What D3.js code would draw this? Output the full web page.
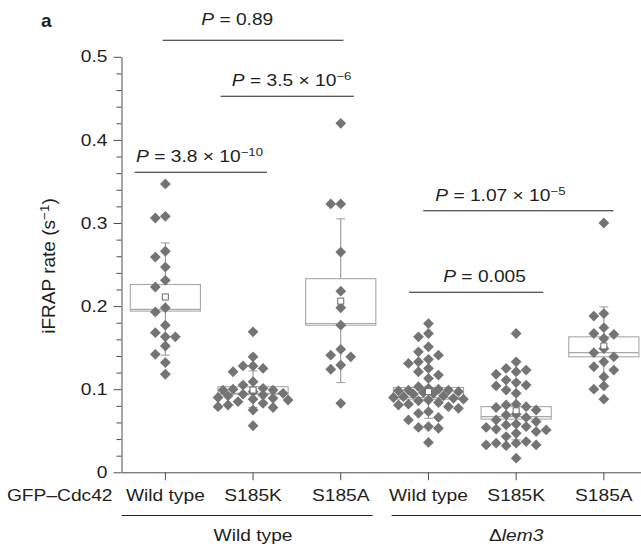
<!DOCTYPE html>
<html><head><meta charset="utf-8">
<script src="https://cdn.jsdelivr.net/npm/d3@7"></script>
<style>
body{margin:0;background:#fff}
svg{display:block}
text{font-family:"Liberation Sans",Arial,Helvetica,sans-serif;fill:#231f20}
</style>
</head><body>
<svg id="chart" width="641" height="547"></svg>
<script>
// ---------------- data ----------------
const categories = ["Wild type","S185K","S185A","Wild type","S185K","S185A"];
const strains = ["Wild type","Δlem3"];
const rowLabel = "GFP–Cdc42";
const yTicks = [0,0.1,0.2,0.3,0.4,0.5];

const wtWT = [0.347,0.308,0.306,0.266,0.259,0.247,0.231,0.223,0.198,0.193,0.177,0.168,0.163,0.163,0.152,0.142,0.132,0.118];
const wtS185K = [0.169,0.139,0.128,0.128,0.125,0.121,0.109,0.105,0.101,0.100,0.099,0.099,0.097,0.095,0.094,0.093,0.092,0.090,0.089,0.088,0.087,0.085,0.083,0.081,0.079,0.078,0.075,0.056];
const wtS185A = [0.420,0.323,0.323,0.265,0.218,0.198,0.177,0.148,0.141,0.139,0.129,0.124,0.083];
const lemWT = [0.179,0.167,0.163,0.151,0.145,0.141,0.136,0.133,0.131,0.125,0.121,0.117,0.113,0.103,0.101,0.100,0.099,0.099,0.098,0.097,0.096,0.095,0.094,0.092,0.091,0.090,0.089,0.088,0.087,0.086,0.084,0.082,0.081,0.079,0.077,0.073,0.071,0.066,0.063,0.055,0.054,0.053,0.036];
const lemS185K = [0.167,0.133,0.125,0.123,0.121,0.118,0.111,0.108,0.105,0.104,0.099,0.095,0.082,0.081,0.079,0.078,0.075,0.070,0.069,0.066,0.063,0.061,0.058,0.057,0.055,0.054,0.052,0.051,0.049,0.047,0.043,0.037,0.035,0.035,0.033,0.033,0.032,0.017];
const lemS185A = [0.300,0.191,0.188,0.174,0.167,0.166,0.161,0.149,0.144,0.139,0.133,0.127,0.123,0.115,0.104,0.100,0.088];

const boxQ3 = [0.226,0.103,0.233,0.102,0.079,0.163];
const boxMedian = [0.196,0.095,0.179,0.090,0.067,0.144];
const boxQ1 = [0.194,0.094,0.177,0.088,0.064,0.139];
const whiskerHigh = [0.276,0.122,0.305,0.126,0.109,0.199];
const whiskerLow = [0.141,0.078,0.108,0.065,0.039,0.103];
const means = [0.211,0.099,0.206,0.097,0.074,0.152];

// significance brackets (category units / data units)
const pMantissa = ["0.89","3.5","3.8","1.07","0.005"];
const pExponent = [null,"−6","−10","−5",null];
const pFrom = [-0.03,0.63,-0.35,2.94,2.78];
const pTo = [2.03,2.15,1.16,5.11,4.31];
const pLevel = [0.520,0.4525,0.361,0.3148,0.2166];
const pTextLevel = [0.538,0.465,0.373,0.3268,0.2286];
const pTextAt = [0.82,1.44,0.39,3.82,3.64];

const groups = [wtWT,wtS185K,wtS185A,lemWT,lemS185K,lemS185A];

// ---------------- layout ----------------
const SX = 1.2;          // horizontal text stretch of the reference
const FS = 16;
const svg = d3.select("#chart");
const x = d3.scaleBand().domain(d3.range(categories.length)).range([121.5,647.7]).padding(0);
const xc = i => x(i) + x.bandwidth()/2;
const xu = d3.scaleLinear().domain([0,5]).range([xc(0),xc(5)]);
const y = d3.scaleLinear().domain([0,0.5]).range([472.3,56.8]);

const axisColor = "#4d4d4d";

// y axis (major + minor)
const minor = d3.range(1,25).map(i=>i*0.02).filter(v=>Math.abs(v*10-Math.round(v*10))>1e-6);
const gyMinor = svg.append("g").attr("transform","translate(121.5,0)")
  .call(d3.axisLeft(y).tickValues(minor).tickSize(5).tickFormat(""));
gyMinor.select(".domain").remove();
const gy = svg.append("g").attr("transform","translate(121.5,0)")
  .call(d3.axisLeft(y).tickValues(yTicks).tickSize(8).tickSizeOuter(0).tickPadding(6)
    .tickFormat(d=>d===0?"0":d3.format(".1f")(d)));
[gy,gyMinor].forEach(g=>{g.selectAll("line,path").attr("stroke",axisColor);});
gy.selectAll("text").attr("font-size",FS).attr("fill","#231f20")
  .attr("transform",function(){return `translate(${+this.getAttribute("x")},0) scale(${SX},1) translate(${-this.getAttribute("x")},0)`;});

// x axis
const gx = svg.append("g").attr("transform","translate(0,472.3)")
  .call(d3.axisBottom(x).tickSize(8).tickSizeOuter(0).tickPadding(9).tickFormat(i=>categories[i]));
gx.selectAll("line,path").attr("stroke",axisColor);
gx.selectAll("text").attr("font-size",FS).attr("fill","#231f20").attr("transform",`scale(${SX},1)`);

// row label
svg.append("text").attr("transform",`translate(112.5,${472.3+9+8+0.71*FS}) scale(${SX},1)`)
  .attr("text-anchor","end").attr("font-size",FS).text(rowLabel);

// group underlines & labels
const underY = 515.5;
const groupSpans = [[x(0), x(2)+x.bandwidth()-12],[x(3)+7, x(5)+x.bandwidth()]];
groupSpans.forEach((s,i)=>{
  svg.append("line").attr("x1",s[0]).attr("x2",s[1]).attr("y1",underY).attr("y2",underY)
    .attr("stroke","#231f20").attr("stroke-width",1.1);
  const cx = (xc(i*3)+xc(i*3+2))/2;
  const t = svg.append("text").attr("transform",`translate(${cx},541) scale(${SX},1)`)
    .attr("text-anchor","middle").attr("font-size",FS);
  if(i===0) t.text(strains[0]);
  else { t.append("tspan").text("Δ"); t.append("tspan").attr("font-style","italic").text("lem3"); }
});

// boxes
const bw = x.bandwidth()*0.8;
const boxG = svg.append("g");
groups.forEach((vals,i)=>{
  const cx = xc(i);
  boxG.append("line").attr("x1",cx).attr("x2",cx).attr("y1",y(whiskerHigh[i])).attr("y2",y(boxQ3[i])).attr("stroke","#8c8c8c");
  boxG.append("line").attr("x1",cx).attr("x2",cx).attr("y1",y(boxQ1[i])).attr("y2",y(whiskerLow[i])).attr("stroke","#8c8c8c");
  [whiskerHigh[i],whiskerLow[i]].forEach(v=>boxG.append("line").attr("x1",cx-4.5).attr("x2",cx+4.5)
     .attr("y1",y(v)).attr("y2",y(v)).attr("stroke","#9a9a9a"));
  boxG.append("rect").attr("x",cx-bw/2).attr("width",bw).attr("y",y(boxQ3[i]))
    .attr("height",y(boxQ1[i])-y(boxQ3[i])).attr("fill","none").attr("stroke","#a8a8a8").attr("stroke-width",1.1);
  boxG.append("line").attr("x1",cx-bw/2).attr("x2",cx+bw/2).attr("y1",y(boxMedian[i])).attr("y2",y(boxMedian[i]))
    .attr("stroke","#a8a8a8").attr("stroke-width",1.1);
});

// diamonds: simple deterministic swarm
const R = 5.4;
const diamond = `M0,${-R}L${R},0L0,${R}L${-R},0Z`;
const offsets = [0,-10,10,-20,20,-30,30,-5,5,-15,15,-25,25,-35,35];
function swarm(vals,cx){
  const placed=[];
  vals.forEach(v=>{
    const py=y(v); let best=null;
    for(const dx of offsets){
      const px=cx+dx;
      if(placed.every(p=>Math.abs(p.x-px)>=9.5||Math.abs(p.y-py)>=9)){best=px;break;}
    }
    if(best===null){
      let bd=-1;
      for(const dx of offsets){
        const px=cx+dx;
        const md=d3.min(placed,p=>Math.hypot(p.x-px,(p.y-py)*1.2));
        if(md>bd){bd=md;best=px;}
      }
    }
    placed.push({x:best,y:py,v});
  });
  return placed;
}
const ptG = svg.append("g");
groups.forEach((vals,i)=>{
  ptG.selectAll(null).data(swarm(vals,xc(i))).join("path")
    .attr("d",diamond).attr("transform",d=>`translate(${d.x},${d.y})`).attr("fill","#747474");
});
// means
groups.forEach((vals,i)=>{
  svg.append("rect").attr("x",xc(i)-3).attr("y",y(means[i])-3).attr("width",6).attr("height",6)
    .attr("fill","#fff").attr("stroke","#6a6a6a").attr("stroke-width",1);
});

// significance brackets
pMantissa.forEach((m,i)=>{
  const ly = y(pLevel[i]);
  svg.append("line").attr("x1",xu(pFrom[i])).attr("x2",xu(pTo[i])).attr("y1",ly).attr("y2",ly)
    .attr("stroke","#231f20").attr("stroke-width",1.1);
  const t = svg.append("text").attr("transform",`translate(${xu(pTextAt[i])},${y(pTextLevel[i])}) scale(${SX},1)`)
    .attr("text-anchor","middle").attr("font-size",FS);
  t.append("tspan").attr("font-style","italic").text("P");
  t.append("tspan").text(" = "+m+(pExponent[i]?" × 10":""));
  if(pExponent[i]) t.append("tspan").attr("dy",-6).attr("font-size",11).text(pExponent[i]);
});

// y label
const yl = svg.append("text").attr("transform",`translate(55,266) rotate(-90) scale(1.12,1.08)`)
  .attr("text-anchor","middle").attr("font-size",17);
yl.append("tspan").text("iFRAP rate (s");
yl.append("tspan").attr("dy",-6).attr("font-size",12).text("−1");
yl.append("tspan").attr("dy",6).text(")");

// panel letter
svg.append("text").attr("x",41).attr("y",26.5).attr("font-size",19).attr("font-weight","bold").text("a");
</script>
</body></html>
